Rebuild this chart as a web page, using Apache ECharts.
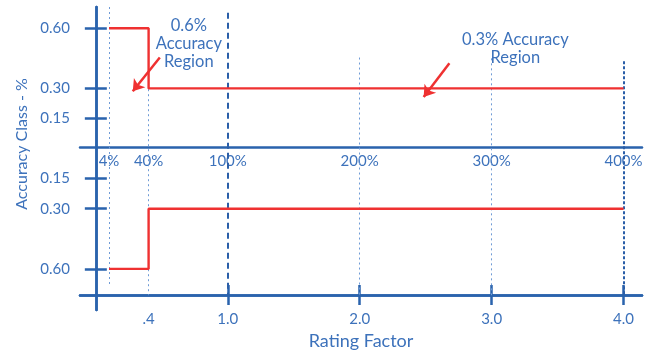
<!DOCTYPE html>
<html>
<head>
<meta charset="utf-8">
<script src="https://cdn.jsdelivr.net/npm/echarts@6/dist/echarts.min.js"></script>
<style>
  html, body { margin: 0; padding: 0; background: #fff; }
  #chart { width: 656px; height: 355px; }
</style>
</head>
<body>
<div id="chart"></div>
<script>
// Dados
const yTickValues = [-0.6, -0.3, -0.15, 0.15, 0.3, 0.6];
const midTickValues = [0.1, 0.4, 1, 2, 3, 4];
const midTickLabels = ["4%", "40%", "100%", "200%", "300%", "400%"];
const bottomLabelValues = [0.4, 1, 2, 3, 4];
const bottomLabels = [".4", "1.0", "2.0", "3.0", "4.0"];
const bottomTickValues = [1, 2, 3, 4];

// degrau: x de inicio, x da mudanca, x final; niveis de precisao
const stepX = [0.1, 0.4, 4.0];
const stepLevels = [0.6, 0.3];

// linhas guia verticais
const guideX = [0.1, 0.4, 1, 2, 3, 4];
const guideTop = [0.706, 0.296, 0.677, 0.454, 0.45, 0.435];
const guideBottom = [-0.681, -0.731, -0.731, -0.731, -0.731, -0.731];
const guideKind = ["thin", "thin", "dash", "thin", "thin", "dot"];

// anotacoes
const noteText = ["0.6%\nAccuracy\nRegion", "0.3% Accuracy\nRegion"];
const noteAt = [[0.705, 0.523], [3.18, 0.499]];
const arrowFrom = [[0.485, 0.454], [2.68, 0.425]];
const arrowTo = [[0.28, 0.286], [2.485, 0.257]];

const azul = "#2a63ad";
const azulTexto = "#3d72bb";
const vermelho = "#ef3131";
const fonte = "Lato, 'Noto Sans', sans-serif";

const chart = echarts.init(document.getElementById("chart"));

const topData = [[stepX[0], stepLevels[0]], [stepX[1], stepLevels[1]], [stepX[2], stepLevels[1]]];
const bottomData = topData.map((p) => [p[0], -p[1]]);

const guideStyles = {
  thin: { color: "#6f9bd6", width: 1, type: [2, 3] },
  dash: { color: "#2a5ea8", width: 2, type: [6, 4] },
  dot: { color: "#2a5ea8", width: 2, type: [3, 2] },
};

const guides = guideX.map((x, i) => [
  { coord: [x, guideTop[i]], lineStyle: guideStyles[guideKind[i]] },
  { coord: [x, guideBottom[i]] },
]);

const arrows = arrowFrom.map((f, i) => [
  { coord: f, lineStyle: { color: vermelho, width: 2.5, type: "solid" } },
  { coord: arrowTo[i] },
]);

const xBase = {
  type: "value",
  min: -0.12,
  max: 4.14,
  position: "bottom",
  splitLine: { show: false },
};

const yBase = {
  type: "value",
  min: -0.805,
  max: 0.706,
  position: "left",
  splitLine: { show: false },
  axisLine: { onZero: true, lineStyle: { color: azul, width: 2.5 } },
};

chart.setOption({
  animation: false,
  textStyle: { fontFamily: fonte },
  grid: { left: 80, right: 14, top: 7, bottom: 42 },
  xAxis: [
    {
      ...xBase,
      offset: -163,
      axisLine: { onZero: false, lineStyle: { color: azul, width: 2.5 } },
      axisTick: { show: false },
      axisLabel: {
        customValues: midTickValues,
        formatter: (v) => midTickLabels[midTickValues.indexOf(v)] || "",
        color: azulTexto,
        fontSize: 15,
        margin: 7,
        fontFamily: fonte,
      },
    },
    {
      ...xBase,
      offset: -15,
      axisLine: { onZero: false, lineStyle: { color: azul, width: 2.5 } },
      axisTick: {
        customValues: bottomTickValues,
        length: 10,
        lineStyle: { color: azul, width: 2.5 },
      },
      axisLabel: {
        customValues: bottomLabelValues,
        formatter: (v) => bottomLabels[bottomLabelValues.indexOf(v)] || "",
        color: azulTexto,
        fontSize: 15,
        margin: 17,
        fontFamily: fonte,
      },
      name: "Rating Factor",
      nameLocation: "middle",
      nameGap: 37,
      nameTextStyle: { color: azulTexto, fontSize: 18, fontFamily: fonte },
    },
    {
      ...xBase,
      offset: -15,
      axisLine: { onZero: false, lineStyle: { color: azul, width: 2.5 } },
      axisTick: {
        inside: true,
        customValues: bottomTickValues,
        length: 10,
        lineStyle: { color: azul, width: 2.5 },
      },
      axisLabel: { show: false },
    },
  ],
  yAxis: [
    {
      ...yBase,
      axisTick: {
        customValues: yTickValues,
        length: 11,
        lineStyle: { color: azul, width: 2.5 },
      },
      axisLabel: {
        customValues: yTickValues,
        formatter: (v) => Math.abs(v).toFixed(2),
        color: azulTexto,
        fontSize: 15,
        margin: 10,
        fontFamily: fonte,
      },
    },
    {
      ...yBase,
      axisTick: {
        inside: true,
        customValues: yTickValues,
        length: 11,
        lineStyle: { color: azul, width: 2.5 },
      },
      axisLabel: { show: false },
    },
  ],
  graphic: [
    {
      type: "text",
      x: 22,
      y: 144,
      rotation: Math.PI / 2,
      style: {
        text: "Accuracy Class - %",
        fill: azulTexto,
        font: "16px " + fonte,
        align: "center",
        verticalAlign: "middle",
      },
    },
  ],
  series: [
    {
      name: "guias",
      type: "line",
      data: [],
      markLine: {
        silent: true,
        symbol: ["none", "none"],
        label: { show: false },
        data: guides,
      },
    },
    {
      name: "superior",
      type: "line",
      step: "end",
      data: topData,
      symbol: "none",
      lineStyle: { color: vermelho, width: 2.4 },
      z: 5,
      markLine: {
        silent: true,
        symbol: ["none", "arrow"],
        symbolSize: 11,
        label: { show: false },
        data: arrows,
      },
      markPoint: {
        silent: true,
        symbol: "circle",
        symbolSize: 0,
        data: noteAt.map((c, i) => ({
          coord: c,
          label: {
            show: true,
            position: "inside",
            formatter: noteText[i],
            color: azulTexto,
            fontSize: 16.5,
            lineHeight: 18,
            align: "center",
            fontFamily: fonte,
          },
        })),
      },
    },
    {
      name: "inferior",
      type: "line",
      step: "end",
      data: bottomData,
      symbol: "none",
      lineStyle: { color: vermelho, width: 2.4 },
      z: 5,
    },
  ],
});
</script>
</body>
</html>
